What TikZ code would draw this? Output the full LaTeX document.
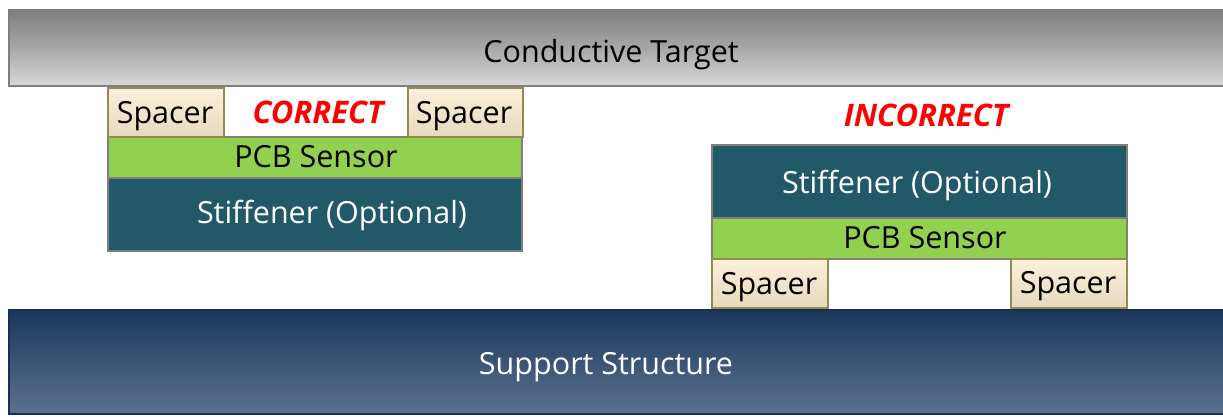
\documentclass[tikz,border=0pt]{standalone}
\usepackage{fontspec}
\setmainfont[Ligatures=NoCommon]{Open Sans}
\definecolor{tgtTop}{HTML}{7F7F7F}
\definecolor{tgtBot}{HTML}{D9D9D9}
\definecolor{tgtLine}{HTML}{7F7F7F}
\definecolor{supTop}{HTML}{1B375C}
\definecolor{supBot}{HTML}{5C7190}
\definecolor{supLine}{HTML}{17304F}
\definecolor{spTop}{HTML}{FDF0D9}
\definecolor{spBot}{HTML}{E6D9BC}
\definecolor{spLine}{HTML}{948A54}
\definecolor{pcbFill}{HTML}{92D050}
\definecolor{stfFill}{HTML}{215968}
\definecolor{layLine}{HTML}{7F7F7F}
\definecolor{warnRed}{HTML}{FF0000}
\begin{document}
\begin{tikzpicture}[x=1pt,y=-1pt,
  lbl/.style={font=\fontsize{30.5}{33}\selectfont, anchor=base, inner sep=0pt},
  wlbl/.style={lbl, text=white},
  boxbase/.style={line width=2.5pt, inner sep=0pt, outer sep=0pt, anchor=north west},
  layer/.style={boxbase, draw=layLine},
  target/.style={boxbase, draw=tgtLine, top color=tgtTop, bottom color=tgtBot, middle color=tgtTop!55!tgtBot},
  support/.style={boxbase, draw=supLine, top color=supTop, bottom color=supBot},
  spacerbox/.style={boxbase, draw=spLine, top color=spTop, bottom color=spBot, minimum height=49pt},
  pcb/.style={layer, fill=pcbFill, minimum height=41pt},
  stiff/.style={layer, fill=stfFill},
  verdict/.style={lbl, font=\fontsize{31}{34}\selectfont\bfseries\itshape, text=warnRed}
]
\useasboundingbox (0,0) rectangle (1223,416);
\clip (0,0) rectangle (1223,416);
% conductive target
\node[target, minimum width=1230pt, minimum height=76pt] (tgt) at (9,10) {};
\node[lbl] (tgtlbl) at (611,62) {Conductive Target};
% support
\node[support, minimum width=1230pt, minimum height=104pt] (sup) at (9,310) {};
\node[wlbl] (suplbl) at (606,374) {Support Structure};
% correct stack
\node[stiff, minimum width=414pt, minimum height=73pt] (stfL) at (108,178) {};
\node[wlbl] (stfLlbl) at (332,223) {Stiffener (Optional)};
\node[pcb, minimum width=414pt] (pcbL) at (108,137) {};
\node[lbl] (pcbLlbl) at (316,167) {PCB Sensor};
\node[spacerbox, minimum width=116pt] (spL1) at (108,88) {};
\node[lbl] (spL1lbl) at (165,123) {Spacer};
\node[spacerbox, minimum width=115pt] (spL2) at (408,88) {};
\node[lbl] (spL2lbl) at (464,123) {Spacer};
\node[verdict] (ok) at (318,123) {CORRECT};
% incorrect stack
\node[verdict] (bad) at (926,126) {INCORRECT};
\node[stiff, minimum width=415pt, minimum height=73pt] (stfR) at (712,145) {};
\node[wlbl] (stfRlbl) at (917,193) {Stiffener (Optional)};
\node[pcb, minimum width=415pt] (pcbR) at (712,218) {};
\node[lbl] (pcbRlbl) at (925,248) {PCB Sensor};
\node[spacerbox, minimum width=116pt] (spR1) at (712,259) {};
\node[lbl] (spR1lbl) at (769,294) {Spacer};
\node[spacerbox, minimum width=116pt] (spR2) at (1011,259) {};
\node[lbl] (spR2lbl) at (1068,293) {Spacer};
\end{tikzpicture}
\end{document}
